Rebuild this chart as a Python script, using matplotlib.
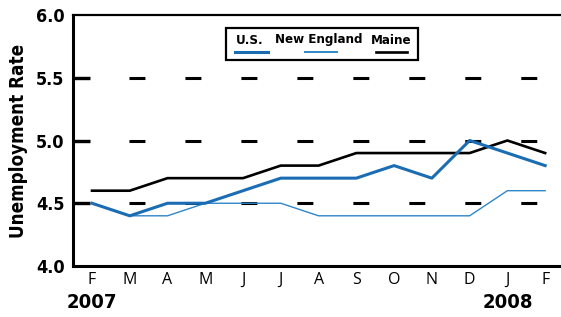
import matplotlib
matplotlib.use('Agg')
import matplotlib.pyplot as plt
from matplotlib.lines import Line2D
from matplotlib.patches import Rectangle

months = ['F', 'M', 'A', 'M', 'J', 'J', 'A', 'S', 'O', 'N', 'D', 'J', 'F']
us = [4.5, 4.4, 4.5, 4.5, 4.6, 4.7, 4.7, 4.7, 4.8, 4.7, 5.0, 4.9, 4.8]
new_england = [4.5, 4.4, 4.4, 4.5, 4.5, 4.5, 4.4, 4.4, 4.4, 4.4, 4.4, 4.6, 4.6]
maine = [4.6, 4.6, 4.7, 4.7, 4.7, 4.8, 4.8, 4.9, 4.9, 4.9, 4.9, 5.0, 4.9]
yticks = [4.0, 4.5, 5.0, 5.5, 6.0]
gridlines = [4.5, 5.0, 5.5]
years = {0: '2007', 11: '2008'}

narrow = dict(family='DejaVu Sans', stretch='condensed', fontweight='bold')
plt.rcParams['lines.scale_dashes'] = False

fig = plt.figure(figsize=(5.61, 3.17), dpi=100)
ax = fig.add_axes([73 / 561, 51 / 317, 488 / 561, 251 / 317])

x = list(range(len(months)))
x_lo, x_hi = -0.503, 12.42
for g in gridlines:
    ax.plot([x_lo, x_hi], [g, g], color='black', lw=2.2,
            dash_capstyle='butt', linestyle=(0, (11.5, 28.8)), zorder=1)
    # first short dash against the axis
    ax.plot([x_lo, x_lo + 17 / 37.75], [g, g], color='black', lw=2.4,
            solid_capstyle='butt', zorder=2)

ax.plot(x, maine, color='black', lw=1.9, zorder=3)
ax.plot(x, new_england, color='#2f86c8', lw=1.0, zorder=3)
ax.plot(x, us, color='#1b6db3', lw=2.2, zorder=4)

ax.set_xlim(x_lo, x_hi)
ax.set_ylim(4.0, 6.0)
ax.set_yticks(yticks)
ax.set_yticklabels(['%.1f' % v for v in yticks], fontsize=13, **narrow)
ax.set_xticks(x)
ax.set_xticklabels(months, family=['Open Sans', 'DejaVu Sans'], fontsize=11.5)
ax.tick_params(axis='both', length=0)
ax.tick_params(axis='x', pad=4)
ax.tick_params(axis='y', pad=6)

ax.spines['right'].set_visible(False)
ax.spines['left'].set_linewidth(2.2)
ax.spines['bottom'].set_linewidth(2.2)
ax.spines['top'].set_linewidth(1.6)

ax.set_ylabel('Unemployment Rate', fontsize=13.5, labelpad=6, **narrow)

for i, yr in years.items():
    ax.text(i, -0.147, yr, transform=ax.get_xaxis_transform(), ha='center', va='center',
            fontsize=14.5, **narrow)

# legend drawn by hand: labels above the line samples
box = Rectangle((226, 317 - 60), 192, 32, transform=None, fill=True, facecolor='white',
                edgecolor='black', lw=1.6, zorder=5)
fig.patches.append(box)
entries = [('U.S.', '#1b6db3', 2.2, 235, 268),
           ('New England', '#2f86c8', 1.4, 305, 337),
           ('Maine', 'black', 1.9, 376, 407)]
label_x = [250, 319, 391]
for (label, col, lw, x0, x1), lx in zip(entries, label_x):
    fig.text(lx / 561, 1 - 40 / 317, label, ha='center', va='center', fontsize=9.5, zorder=6, **narrow)
    fig.lines.append(Line2D([x0 / 561, x1 / 561], [1 - 52 / 317, 1 - 52 / 317],
                            transform=fig.transFigure, color=col, lw=lw, zorder=6))

fig.savefig('out.png', dpi=100)
